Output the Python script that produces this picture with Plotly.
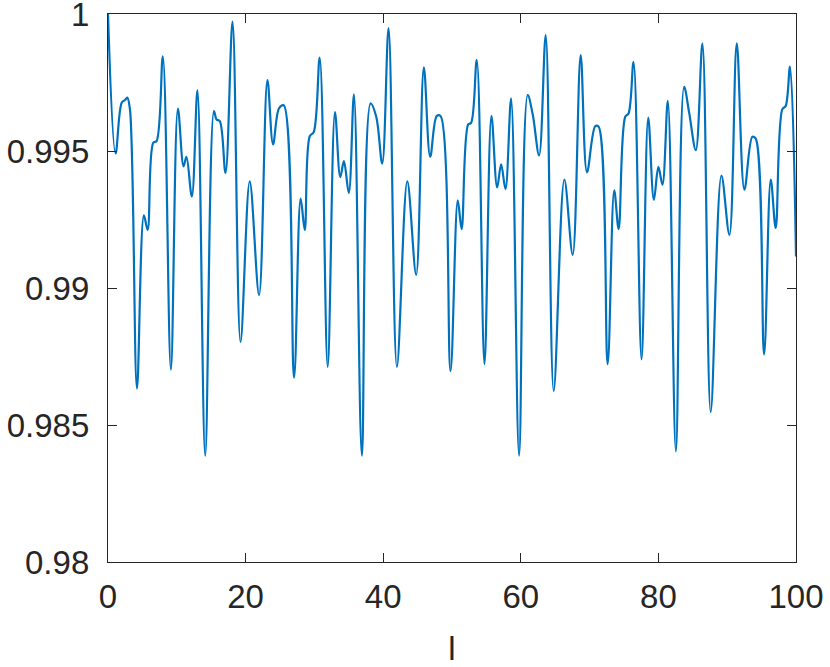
import plotly.graph_objects as go

# points (extrema and shoulders)
l_vals = [
    0, 1.1, 2.0, 2.47, 2.8, 3.19, 4.21, 5.22, 5.76, 6.57, 7.06, 7.97, 9.14,
    10.16, 10.98, 11.4, 12.19, 13.0, 14.13, 15.4, 15.77, 16.25, 17.08, 18.1,
    19.26, 20.6, 21.96, 23.17, 23.99, 24.86, 25.54, 27.04, 28.0, 28.6, 29.32,
    29.9, 30.77, 31.93, 32.99, 33.76, 34.29, 35.0, 35.75, 36.9, 38.17, 38.99,
    39.86, 40.78, 41.99, 43.5, 44.79, 45.91, 46.83, 47.79, 48.33, 49.78, 50.84,
    51.4, 52.35, 52.78, 53.6, 54.72, 55.73, 56.56, 57.14, 57.77, 58.59, 59.75,
    61.0, 61.73, 62.66, 63.62, 64.78, 66.33, 67.54, 68.7, 69.62, 70.83, 71.31,
    72.62, 73.58, 74.22, 75.18, 75.66, 76.39, 77.55, 78.52, 79.34, 80.0, 80.59,
    81.37, 82.54, 83.74, 84.47, 85.44, 86.4, 87.6, 89.16, 90.32, 91.39, 92.5,
    93.66, 94.15, 95.36, 96.33, 97.05, 98.01, 98.5, 99.13, 100]
f_vals = [
    1.0, 0.99491, 0.99677, 0.99686, 0.99695, 0.99652, 0.98633, 0.99265,
    0.99212, 0.9953, 0.99536, 0.99845, 0.98702, 0.99655, 0.99444, 0.99479,
    0.99334, 0.99722, 0.98388, 0.99646, 0.99615, 0.99609, 0.9942, 0.99972,
    0.98803, 0.99389, 0.98974, 0.99759, 0.99524, 0.99656, 0.99667, 0.98673,
    0.99326, 0.99212, 0.99554, 0.99569, 0.99841, 0.98712, 0.99642, 0.99405,
    0.99463, 0.99347, 0.99707, 0.98388, 0.99674, 0.99625, 0.99454, 0.99949,
    0.98712, 0.99389, 0.99048, 0.99805, 0.99479, 0.99628, 0.99628, 0.98697,
    0.9932, 0.99215, 0.99597, 0.99603, 0.99833, 0.98722, 0.99628, 0.99367,
    0.99451, 0.99361, 0.99692, 0.98388, 0.99704, 0.99634, 0.99484, 0.99923,
    0.98624, 0.99396, 0.99121, 0.9985, 0.99422, 0.99591, 0.99589, 0.98722,
    0.99356, 0.99215, 0.99625, 0.99637, 0.99825, 0.98739, 0.99622, 0.99322,
    0.99442, 0.99377, 0.99683, 0.98404, 0.99734, 0.9964, 0.99503, 0.99893,
    0.98547, 0.9941, 0.99194, 0.99893, 0.99359, 0.99552, 0.99545, 0.98758,
    0.99396, 0.99219, 0.99652, 0.99664, 0.99808, 0.99115]

x_ticks = [0, 20, 40, 60, 80, 100]
y_ticks = [0.98, 0.985, 0.99, 0.995, 1]
y_tick_text = ['0.98', '0.985', '0.99', '0.995', '1']

axis_col = '#262626'
font = dict(family='Liberation Sans, Arial', size=33, color=axis_col)

fig = go.Figure()
fig.add_trace(go.Scatter(x=l_vals, y=f_vals, mode='lines',
                         line=dict(color='#0072BD', width=2.2, shape='spline'),
                         showlegend=False, cliponaxis=False))

common = dict(showgrid=False, zeroline=False, showline=True, mirror='ticks',
              linecolor=axis_col, linewidth=1.3, ticks='inside', ticklen=9,
              tickwidth=1.3, tickcolor=axis_col, tickfont=font, automargin=False,
              ticklabeloverflow='allow')

fig.update_xaxes(range=[0, 100], tickvals=x_ticks, ticklabelstandoff=5,
                 title=dict(text='l', font=font, standoff=23), **common)
fig.update_yaxes(range=[0.98, 1.0000001], tickvals=y_ticks, ticktext=y_tick_text,
                 ticklabelstandoff=11, **common)

fig.update_layout(
    width=830, height=667,
    margin=dict(l=108, r=34, t=14, b=105),
    plot_bgcolor='white', paper_bgcolor='white'
)

# drop the default 8px page margin so the figure sits at the window corner
fig.write_html("out.html", config={'displayModeBar': False},
               post_script="document.body.style.margin='0';")
